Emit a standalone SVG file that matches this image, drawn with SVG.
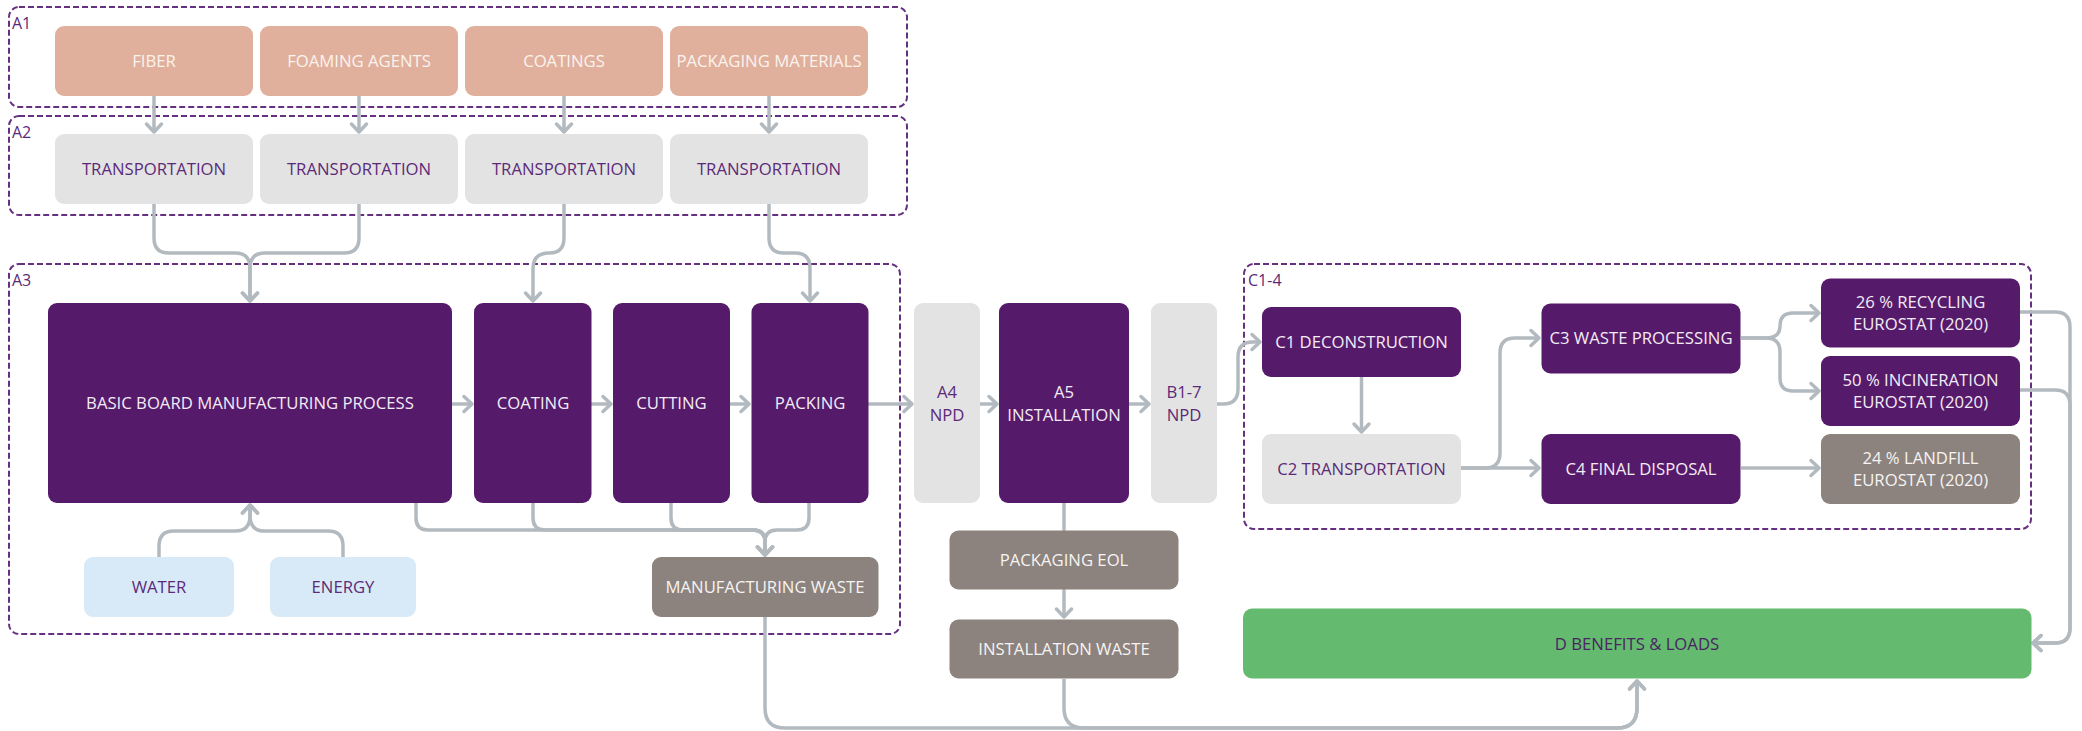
<svg xmlns="http://www.w3.org/2000/svg" width="2082" height="731" viewBox="0 0 2082 731">
<style>
.grp{fill:none;stroke:#65307f;stroke-width:2;stroke-dasharray:6 3}
.cap{font-family:"Open Sans","Liberation Sans",sans-serif;font-size:16px;fill:#5b2a78}
.t{font-family:"Open Sans","Liberation Sans",sans-serif;font-size:16.7px;text-anchor:middle}
.raw rect{fill:#e0b09c}.raw text{fill:#fbf3ee}
.lg rect{fill:#e3e3e3}.lg text{fill:#5b2a78}
.pu rect{fill:#561a6b}.pu text{fill:#f3ecf5}
.tp rect{fill:#8c837f}.tp text{fill:#f6f3f1}
.bl rect{fill:#d8eaf8}.bl text{fill:#5b2a78}
.gr rect{fill:#64ba6e}.gr text{fill:#4a2463}
.conn path{fill:none;stroke:#b2bac0;stroke-width:3.5;stroke-linejoin:round}
.conn .a{marker-end:url(#ah)}
</style>
<defs>
<marker id="ah" markerUnits="userSpaceOnUse" markerWidth="24" markerHeight="24" viewBox="-12 -12 24 24" refX="0" refY="0" orient="auto">
<path d="M-8,-7.5 L0,0 L-8,7.5" fill="none" stroke="#b2bac0" stroke-width="3.5" stroke-linecap="round" stroke-linejoin="round"/>
</marker>
</defs>
<rect width="2082" height="731" fill="#ffffff"/>

<g id="groups">
<rect class="grp" x="9" y="7" width="898" height="100" rx="10"/>
<text class="cap" x="12" y="29">A1</text>
<rect class="grp" x="9" y="116" width="898" height="99" rx="10"/>
<text class="cap" x="12" y="138">A2</text>
<rect class="grp" x="9" y="264" width="891" height="370" rx="10"/>
<text class="cap" x="12" y="286">A3</text>
<rect class="grp" x="1244" y="264" width="787" height="265" rx="10"/>
<text class="cap" x="1248" y="286">C1-4</text>
</g>

<g class="conn" id="connectors">
<path class="a" d="M154,96 V132"/>
<path class="a" d="M359,96 V132"/>
<path class="a" d="M564,96 V132"/>
<path class="a" d="M769,96 V132"/>
<path class="a" d="M154,204 V238 Q154,253 169,253 H235 Q250,253 250,268 V301"/>
<path class="a" d="M359,204 V238 Q359,253 344,253 H265 Q250,253 250,268 V301"/>
<path class="a" d="M564,204 V238 Q564,253 549,253 Q533,253 533,269 V301"/>
<path class="a" d="M769,204 V238 Q769,253 784,253 H795 Q810,253 810,268 V301"/>
<path class="a" d="M452,404 H472"/>
<path class="a" d="M591,404 H611"/>
<path class="a" d="M730,404 H749"/>
<path class="a" d="M868,404 H912"/>
<path class="a" d="M980,404 H997"/>
<path class="a" d="M1129,404 H1149"/>
<path class="a" d="M1217,404 H1223 Q1238,404 1238,389 V357 Q1238,342 1253,342 H1260"/>
<path class="a" d="M1361.5,377 V432"/>
<path class="a" d="M1461,468 H1485 Q1500,468 1500,453 V353 Q1500,338 1515,338 H1539"/>
<path class="a" d="M1461,468 H1539"/>
<path class="a" d="M1741,338 H1766 Q1780,338 1780,326 Q1780,313 1793,313 H1819"/>
<path class="a" d="M1741,338 H1766 Q1780,338 1780,352 V378 Q1780,391 1793,391 H1819"/>
<path class="a" d="M1741,468 H1819"/>
<path class="a" d="M2020,312 H2055 Q2070,312 2070,327 V628 Q2070,643 2055,643 H2033"/>
<path class="a" d="M2020,390 H2055 Q2070,390 2070,405 V628 Q2070,643 2055,643 H2033"/>
<path class="a" d="M159,557 V546 Q159,531 174,531 H235 Q250,531 250,516 V505"/>
<path class="a" d="M343,557 V546 Q343,531 328,531 H265 Q250,531 250,516 V505"/>
<path class="a" d="M416,503 V518 Q416,530 428,530 H753 Q765,530 765,542 V555"/>
<path class="a" d="M533,503 V518 Q533,530 545,530 H753 Q765,530 765,542 V555"/>
<path class="a" d="M671,503 V518 Q671,530 683,530 H753 Q765,530 765,542 V555"/>
<path class="a" d="M809,503 V518 Q809,530 797,530 H777 Q765,530 765,542 V555"/>
<path d="M1064,503 V531"/>
<path class="a" d="M1064,589 V617"/>
<path class="a" d="M765,617 V708 Q765,728 785,728 H1617 Q1637,728 1637,708 V681"/>
<path class="a" d="M1064,679 V708 Q1064,728 1084,728 H1617 Q1637,728 1637,708 V681"/>
</g>

<g id="fiber" class="raw"><rect x="55" y="26" width="198" height="70" rx="9"/><text class="t" x="154" y="67">FIBER</text></g>
<g id="foaming" class="raw"><rect x="260" y="26" width="198" height="70" rx="9"/><text class="t" x="359" y="67">FOAMING AGENTS</text></g>
<g id="coatings" class="raw"><rect x="465" y="26" width="198" height="70" rx="9"/><text class="t" x="564" y="67">COATINGS</text></g>
<g id="packmat" class="raw"><rect x="670" y="26" width="198" height="70" rx="9"/><text class="t" x="769" y="67">PACKAGING MATERIALS</text></g>

<g id="transp1" class="lg"><rect x="55" y="134" width="198" height="70" rx="9"/><text class="t" x="154" y="175">TRANSPORTATION</text></g>
<g id="transp2" class="lg"><rect x="260" y="134" width="198" height="70" rx="9"/><text class="t" x="359" y="175">TRANSPORTATION</text></g>
<g id="transp3" class="lg"><rect x="465" y="134" width="198" height="70" rx="9"/><text class="t" x="564" y="175">TRANSPORTATION</text></g>
<g id="transp4" class="lg"><rect x="670" y="134" width="198" height="70" rx="9"/><text class="t" x="769" y="175">TRANSPORTATION</text></g>

<g id="basic" class="pu"><rect x="48" y="303" width="404" height="200" rx="9"/><text class="t" x="250" y="409">BASIC BOARD MANUFACTURING PROCESS</text></g>
<g id="coating" class="pu"><rect x="474" y="303" width="117.5" height="200" rx="9"/><text class="t" x="533" y="409">COATING</text></g>
<g id="cutting" class="pu"><rect x="613" y="303" width="117" height="200" rx="9"/><text class="t" x="671.5" y="409">CUTTING</text></g>
<g id="packing" class="pu"><rect x="751.5" y="303" width="117" height="200" rx="9"/><text class="t" x="810" y="409">PACKING</text></g>

<g id="water" class="bl"><rect x="84" y="557" width="150" height="60" rx="9"/><text class="t" x="159" y="593">WATER</text></g>
<g id="energy" class="bl"><rect x="270" y="557" width="146" height="60" rx="9"/><text class="t" x="343" y="593">ENERGY</text></g>
<g id="mfgwaste" class="tp"><rect x="652" y="557" width="226.5" height="60" rx="9"/><text class="t" x="765" y="593">MANUFACTURING WASTE</text></g>

<g id="a4" class="lg"><rect x="914" y="303" width="66" height="200" rx="9"/><text class="t" x="947" y="398">A4</text><text class="t" x="947" y="421">NPD</text></g>
<g id="a5" class="pu"><rect x="999" y="303" width="130" height="200" rx="9"/><text class="t" x="1064" y="398">A5</text><text class="t" x="1064" y="421">INSTALLATION</text></g>
<g id="b17" class="lg"><rect x="1151" y="303" width="66" height="200" rx="9"/><text class="t" x="1184" y="398">B1-7</text><text class="t" x="1184" y="421">NPD</text></g>

<g id="packeol" class="tp"><rect x="949.5" y="530.5" width="229" height="59" rx="9"/><text class="t" x="1064" y="566">PACKAGING EOL</text></g>
<g id="instwaste" class="tp"><rect x="949.5" y="619.5" width="229" height="59" rx="9"/><text class="t" x="1064" y="655">INSTALLATION WASTE</text></g>

<g id="c1" class="pu"><rect x="1262" y="307" width="199" height="70" rx="9"/><text class="t" x="1361.5" y="348">C1 DECONSTRUCTION</text></g>
<g id="c2" class="lg"><rect x="1262" y="434" width="199" height="70" rx="9"/><text class="t" x="1361.5" y="475">C2 TRANSPORTATION</text></g>
<g id="c3" class="pu"><rect x="1541.5" y="303.5" width="199" height="70" rx="9"/><text class="t" x="1641" y="344">C3 WASTE PROCESSING</text></g>
<g id="c4" class="pu"><rect x="1541.5" y="434" width="199" height="70" rx="9"/><text class="t" x="1641" y="475">C4 FINAL DISPOSAL</text></g>
<g id="recycling" class="pu"><rect x="1821" y="278.5" width="199" height="69" rx="9"/><text class="t" x="1920.5" y="307.5">26 % RECYCLING</text><text class="t" x="1920.5" y="330">EUROSTAT (2020)</text></g>
<g id="incineration" class="pu"><rect x="1821" y="356" width="199" height="70" rx="9"/><text class="t" x="1920.5" y="385.5">50 % INCINERATION</text><text class="t" x="1920.5" y="408">EUROSTAT (2020)</text></g>
<g id="landfill" class="tp"><rect x="1821" y="434" width="199" height="70" rx="9"/><text class="t" x="1920.5" y="463.5">24 % LANDFILL</text><text class="t" x="1920.5" y="486">EUROSTAT (2020)</text></g>

<g id="d" class="gr"><rect x="1243" y="608.5" width="788.5" height="70" rx="9"/><text class="t" x="1637" y="649.5">D BENEFITS &amp; LOADS</text></g>
</svg>
